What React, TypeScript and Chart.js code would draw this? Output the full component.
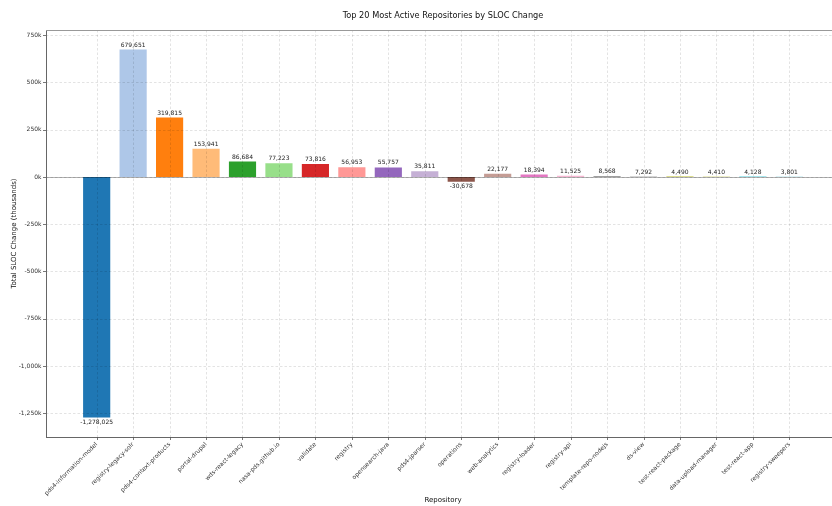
import { useEffect, useRef } from "react";
import { Chart, registerables } from "chart.js";

Chart.register(...registerables);

const repositories = [
  "pds4-information-model",
  "registry-legacy-solr",
  "pds4-context-products",
  "portal-drupal",
  "wds-react-legacy",
  "nasa-pds.github.io",
  "validate",
  "registry",
  "opensearch-java",
  "pds4-jparser",
  "operations",
  "web-analytics",
  "registry-loader",
  "registry-api",
  "template-repo-nodejs",
  "ds-view",
  "test-react-package",
  "data-upload-manager",
  "test-react-app",
  "registry-sweepers",
];

const slocChange = [
  -1278025, 679651, 319815, 153941, 86684, 77223, 73816, 56953, 55757, 35811,
  -30678, 22177, 18394, 11525, 8568, 7292, 4490, 4410, 4128, 3801,
];

const barColors = [
  "#1f77b4", "#aec7e8", "#ff7f0e", "#ffbb78", "#2ca02c", "#98df8a", "#d62728",
  "#ff9896", "#9467bd", "#c5b0d5", "#8c564b", "#c49c94", "#e377c2", "#f7b6d2",
  "#7f7f7f", "#c7c7c7", "#bcbd22", "#dbdb8d", "#17becf", "#9edae5",
];

const yTickValues = [
  750000, 500000, 250000, 0, -250000, -500000, -750000, -1000000, -1250000,
];

const chartTitle = "Top 20 Most Active Repositories by SLOC Change";

const FONT = "DejaVu Sans";

const fmtK = (v: number) =>
  (v / 1000).toLocaleString("en-US", { maximumFractionDigits: 0 }) + "k";

const overlay = {
  id: "overlay",
  afterDatasetsDraw(chart: any) {
    const { ctx, chartArea: a, scales } = chart;
    const xs = scales.x;
    const ys = scales.y;
    const line = (x1: number, y1: number, x2: number, y2: number) => {
      ctx.beginPath();
      ctx.moveTo(x1, y1);
      ctx.lineTo(x2, y2);
      ctx.stroke();
    };
    ctx.save();
    // grid
    ctx.strokeStyle = "rgba(0,0,0,0.14)";
    ctx.lineWidth = 0.8;
    ctx.setLineDash([2.5, 2]);
    xs.ticks.forEach((t: any) => {
      const px = Math.round(xs.getPixelForValue(t.value)) + 0.5;
      line(px, a.top, px, a.bottom);
    });
    ys.ticks.forEach((t: any) => {
      const py = Math.round(ys.getPixelForValue(t.value)) + 0.5;
      line(a.left, py, a.right, py);
    });
    ctx.setLineDash([]);
    // zero line
    const y0 = Math.round(ys.getPixelForValue(0)) + 0.5;
    ctx.strokeStyle = "rgba(0,0,0,0.3)";
    ctx.lineWidth = 1;
    line(a.left, y0, a.right, y0);
    // spines
    ctx.strokeStyle = "#666";
    ctx.lineWidth = 1;
    line(a.left + 0.5, a.top, a.left + 0.5, a.bottom);
    line(a.left, a.bottom + 0.5, a.right, a.bottom + 0.5);
    ctx.strokeStyle = "#999";
    line(a.left, a.top + 0.5, a.right, a.top + 0.5);
    line(a.right - 0.5, a.top, a.right - 0.5, a.bottom);
    // tick marks
    ctx.strokeStyle = "#555";
    ctx.lineWidth = 0.8;
    xs.ticks.forEach((t: any) => {
      const px = Math.round(xs.getPixelForValue(t.value)) + 0.5;
      line(px, a.bottom, px, a.bottom + 3);
    });
    ys.ticks.forEach((t: any) => {
      const py = Math.round(ys.getPixelForValue(t.value)) + 0.5;
      line(a.left - 3, py, a.left, py);
    });
    // value labels
    const meta = chart.getDatasetMeta(0);
    ctx.font = `6px "${FONT}"`;
    ctx.fillStyle = "#222";
    ctx.textAlign = "center";
    meta.data.forEach((el: any, i: number) => {
      const v = slocChange[i];
      const label = v.toLocaleString("en-US");
      if (v >= 0) {
        ctx.textBaseline = "bottom";
        ctx.fillText(label, el.x, el.y - 0.5);
      } else {
        ctx.textBaseline = "top";
        ctx.fillText(label, el.x, el.y + 1);
      }
    });
    // title centred over the axes
    ctx.font = `8.2px "${FONT}"`;
    ctx.fillStyle = "#111";
    ctx.textAlign = "center";
    ctx.textBaseline = "middle";
    ctx.fillText(chartTitle, (a.left + a.right) / 2, 16);
    ctx.restore();
  },
};

export default function App() {
  const ref = useRef<HTMLCanvasElement | null>(null);

  useEffect(() => {
    if (!ref.current) return;
    const dataMin = Math.min(...slocChange);
    const dataMax = Math.max(...slocChange);
    const yPad = (dataMax - dataMin) * 0.05;
    const xLo = -0.4;
    const xHi = repositories.length - 1 + 0.4;
    const xPad = (xHi - xLo) * 0.05;

    const chart = new Chart(ref.current, {
      type: "bar",
      data: {
        datasets: [
          {
            data: slocChange.map((v, i) => ({ x: i, y: v })) as any,
            backgroundColor: barColors,
            borderColor: "rgba(255,255,255,0.55)",
            borderWidth: 1,
            barPercentage: 0.8,
            categoryPercentage: 1.0,
          },
        ],
      },
      options: {
        animation: false,
        responsive: false,
        devicePixelRatio: 1,
        layout: { padding: { left: 0, right: 34, top: 30, bottom: 0 } },
        plugins: {
          legend: { display: false },
          tooltip: { enabled: false },
          title: { display: false },
        },
        scales: {
          x: {
            type: "linear",
            min: xLo - xPad,
            max: xHi + xPad,
            offset: false,
            grid: { display: false, drawTicks: false },
            border: { display: false },
            afterBuildTicks: (scale: any) => {
              scale.ticks = repositories.map((_, i) => ({ value: i }));
            },
            afterFit: (scale: any) => {
              scale.height = 69;
            },
            ticks: {
              autoSkip: false,
              minRotation: 45,
              maxRotation: 45,
              padding: 4,
              color: "#333",
              font: { family: FONT, size: 6 },
              callback: (v: any) => repositories[Math.round(Number(v))] ?? "",
            },
            title: {
              display: true,
              text: "Repository",
              color: "#111",
              font: { family: FONT, size: 7 },
              padding: { top: 0, bottom: 1.8 },
            },
          },
          y: {
            type: "linear",
            min: dataMin - yPad,
            max: dataMax + yPad,
            grid: { display: false, drawTicks: false },
            border: { display: false },
            afterBuildTicks: (scale: any) => {
              scale.ticks = yTickValues.map((v) => ({ value: v }));
            },
            afterFit: (scale: any) => {
              scale.width = 46;
            },
            ticks: {
              padding: 4.5,
              color: "#333",
              font: { family: FONT, size: 6 },
              callback: (v: any) => fmtK(Number(v)),
            },
            title: {
              display: true,
              text: "Total SLOC Change (thousands)",
              color: "#111",
              font: { family: FONT, size: 7 },
              padding: { top: 9.8, bottom: 0 },
            },
          },
        },
      },
      plugins: [overlay],
    });
    return () => chart.destroy();
  }, []);

  return (
    <div
      style={{
        position: "fixed",
        left: 0,
        top: 0,
        width: 832,
        height: 506,
        overflow: "hidden",
        background: "#fff",
      }}
    >
      <canvas ref={ref} width={874} height={506} style={{ display: "block" }} />
    </div>
  );
}
